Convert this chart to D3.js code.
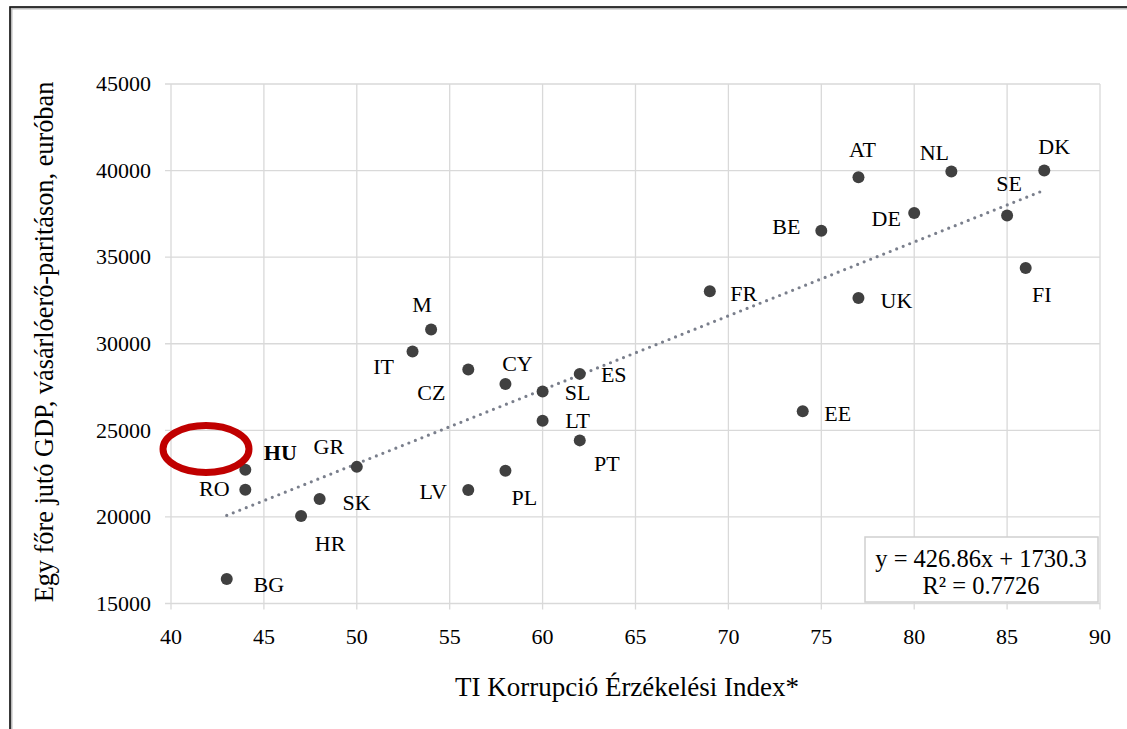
<!DOCTYPE html>
<html>
<head>
<meta charset="utf-8">
<script src="https://cdn.jsdelivr.net/npm/d3@7"></script>
<style>
  body { margin: 0; background: #fff; }
  text { font-family: "Liberation Serif", serif; }
</style>
</head>
<body>
<svg id="chart"></svg>
<script>
// data: country code, TI index, GDP per capita (PPP, EUR)
var codes = ["BG", "HR", "SK", "RO", "HU", "GR", "LV", "PL", "PT", "LT", "SL", "CY", "CZ", "ES",
             "IT", "M", "FR", "EE", "BE", "UK", "AT", "DE", "NL", "SE", "FI", "DK"];
var tiIndex = [43, 47, 48, 44, 44, 50, 56, 58, 62, 60, 60, 58, 56, 62,
               53, 54, 69, 74, 75, 77, 77, 80, 82, 85, 86, 87];
var gdpValues = [16410, 20050, 21030, 21570, 22720, 22890, 21550, 22660, 24420, 25550, 27240, 27680, 28510, 28260,
                 29550, 30820, 33030, 26100, 36530, 32640, 39610, 37550, 39950, 37400, 34370, 40010];
var xTicks = [40, 45, 50, 55, 60, 65, 70, 75, 80, 85, 90];
var yTicks = [15000, 20000, 25000, 30000, 35000, 40000, 45000];
var trendSlope = 426.86, trendIntercept = 1730.3;
var equationLines = ["y = 426.86x + 1730.3", "R² = 0.7726"];
var highlight = "HU";

// label offsets relative to the point (px)
var labelPos = {
  BG: [42, 6], HR: [29, 28], SK: [37, 4], RO: [-31, -1], HU: [35, -17], GR: [-28, -20],
  LV: [-35, 2], PL: [19, 27], PT: [27, 23], LT: [35, 0], SL: [35, 1], CY: [12, -20],
  CZ: [-37, 23], ES: [34, 1], IT: [-29, 15], M: [-9, -25], FR: [34, 2], EE: [35, 2],
  BE: [-35, -4], UK: [38, 3], AT: [4, -28], NL: [-17, -19], DE: [-28, 6], SE: [2, -32],
  FI: [16, 27], DK: [10, -24]
};

var W = 1127, H = 729;
var svg = d3.select("#chart").attr("width", W).attr("height", H);

// outer frame (continues past right/bottom edges)
svg.append("rect").attr("x", 11).attr("y", 8).attr("width", 1200).attr("height", 800)
  .attr("fill", "none").attr("stroke", "#bbb").attr("stroke-width", 3);
svg.append("rect").attr("x", 10).attr("y", 7).attr("width", 1200).attr("height", 800)
  .attr("fill", "none").attr("stroke", "#111").attr("stroke-width", 1.6);

var x = d3.scaleLinear().domain([40, 90]).range([171, 1100]);
var y = d3.scaleLinear().domain([15000, 45000]).range([603.5, 84]);

// gridlines
svg.append("g").selectAll("line").data(xTicks).enter().append("line")
  .attr("x1", d => x(d)).attr("x2", d => x(d)).attr("y1", y(45000)).attr("y2", y(15000) + 6)
  .attr("stroke", "#d9d9d9").attr("stroke-width", 1.3);
svg.append("g").selectAll("line").data(yTicks).enter().append("line")
  .attr("x1", x(40) - 6).attr("x2", x(90)).attr("y1", d => y(d)).attr("y2", d => y(d))
  .attr("stroke", "#d9d9d9").attr("stroke-width", 1.3);

function txt(sel, size) {
  return sel.style("font-family", "'Liberation Serif', serif")
    .style("font-size", size + "px").attr("fill", "#000");
}

// tick labels
txt(svg.append("g").selectAll("text").data(yTicks).enter().append("text"), 22)
  .attr("x", x(40) - 20).attr("y", d => y(d)).attr("dy", "0.33em")
  .attr("text-anchor", "end").text(d => d);
txt(svg.append("g").selectAll("text").data(xTicks).enter().append("text"), 22)
  .attr("x", d => x(d)).attr("y", 644)
  .attr("text-anchor", "middle").text(d => d);

// axis titles
txt(svg.append("text"), 27).attr("x", 627).attr("y", 696).attr("text-anchor", "middle")
  .text("TI Korrupció Érzékelési Index*");
txt(svg.append("text"), 26.3).attr("transform", "translate(53,342) rotate(-90)").attr("text-anchor", "middle")
  .text("Egy főre jutó GDP, vásárlóerő-paritáson, euróban");

var pts = codes.map((c, i) => ({ code: c, x: tiIndex[i], y: gdpValues[i] }));

// trendline
var xMin = d3.min(tiIndex), xMax = d3.max(tiIndex);
svg.append("line")
  .attr("x1", x(xMin)).attr("y1", y(trendSlope * xMin + trendIntercept))
  .attr("x2", x(xMax)).attr("y2", y(trendSlope * xMax + trendIntercept))
  .attr("stroke", "#7a7f8c").attr("stroke-width", 3.2)
  .attr("stroke-dasharray", "0 7").attr("stroke-linecap", "round");

// points
svg.append("g").selectAll("circle").data(pts).enter().append("circle")
  .attr("cx", d => x(d.x)).attr("cy", d => y(d.y)).attr("r", 6)
  .attr("fill", "#404040");

// labels
txt(svg.append("g").selectAll("text").data(pts).enter().append("text"), 22)
  .attr("x", d => x(d.x) + labelPos[d.code][0])
  .attr("y", d => y(d.y) + labelPos[d.code][1])
  .attr("dy", "0.33em").attr("text-anchor", "middle")
  .style("font-weight", d => d.code === highlight ? "bold" : "normal")
  .text(d => d.code);

// highlight ellipse
svg.append("ellipse").attr("cx", 206).attr("cy", 449).attr("rx", 43).attr("ry", 23.5)
  .attr("fill", "none").attr("stroke", "#c00000").attr("stroke-width", 7);

// equation box
var box = svg.append("g");
box.append("rect").attr("x", 865).attr("y", 537).attr("width", 233).attr("height", 65)
  .attr("fill", "#fff").attr("stroke", "#d0d0d0").attr("stroke-width", 1.5);
txt(box.selectAll("text").data(equationLines).enter().append("text"), 24.5)
  .attr("x", 981).attr("y", (d, i) => 567 + i * 27)
  .attr("text-anchor", "middle").text(d => d);
</script>
</body>
</html>
